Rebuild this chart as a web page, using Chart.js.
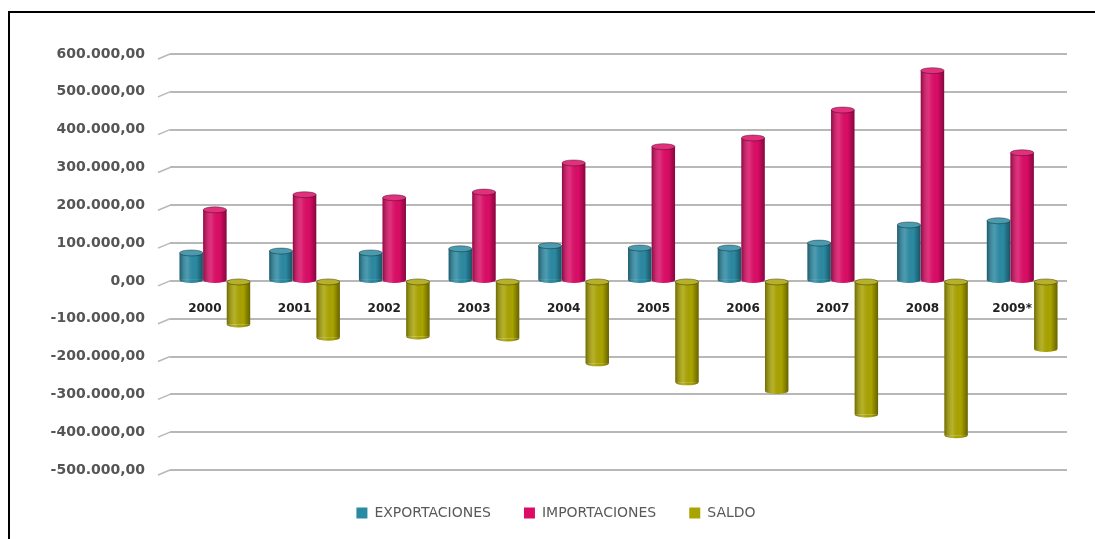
<!DOCTYPE html>
<html>
<head>
<meta charset="utf-8">
<script src="https://cdn.jsdelivr.net/npm/chart.js@4.4.1/dist/chart.umd.min.js"></script>
<style>
  body { margin: 0; background: #fff; }
  #frame { position: absolute; left: 8px; top: 11px; width: 1200px; height: 600px;
           border-left: 2px solid #000; border-top: 2px solid #000; }
  #wrap { position: absolute; left: 0; top: 0; width: 1095px; height: 539px; }
</style>
</head>
<body>
<div id="frame"></div>
<div id="wrap"><canvas id="balanza" width="1095" height="539"></canvas></div>
<script>
// valores (miles)
const years = ['2000', '2001', '2002', '2003', '2004', '2005', '2006', '2007', '2008', '2009*'];
const exportaciones = [74000, 79000, 74000, 85000, 93000, 87000, 87000, 100000, 148000, 159000];
const importaciones = [188000, 228000, 220000, 235000, 312000, 355000, 378000, 452000, 556000, 339000];
const saldo = [-115000, -150000, -147000, -152000, -218000, -268000, -291000, -353000, -408000, -180000];
const yMin = -500000;
const yMax = 600000;
const yStep = 100000;

const fmt = (v) => {
  const parts = Math.abs(v).toFixed(2).split('.');
  const ent = parts[0].replace(/\B(?=(\d{3})+(?!\d))/g, '.');
  return (v < 0 ? '-' : '') + ent + ',' + parts[1];
};

// sombreado tipo cilindro encima de cada barra
const cilindros = {
  id: 'cilindros',
  beforeDatasetsDraw(chart) {
    // lineas inclinadas del eje (efecto 3D)
    const ctx = chart.ctx;
    const ys = chart.scales.y;
    ctx.save();
    ctx.strokeStyle = '#b8b8b8';
    ctx.lineWidth = 1.5;
    ys.ticks.forEach((t) => {
      const py = ys.getPixelForValue(t.value);
      ctx.beginPath();
      ctx.moveTo(chart.chartArea.left - 12, py + 5);
      ctx.lineTo(chart.chartArea.left, py);
      ctx.stroke();
    });
    ctx.restore();
  },
  afterDatasetsDraw(chart) {
    const ctx = chart.ctx;
    chart.data.datasets.forEach((ds, di) => {
      const meta = chart.getDatasetMeta(di);
      meta.data.forEach((el) => {
        const { x, y, base, width } = el.getProps(['x', 'y', 'base', 'width'], true);
        const top = Math.min(y, base), bot = Math.max(y, base);
        const l = x - width / 2;
        const g = ctx.createLinearGradient(l, 0, l + width, 0);
        g.addColorStop(0, 'rgba(0,0,0,0.35)');
        g.addColorStop(0.35, 'rgba(255,255,255,0.15)');
        g.addColorStop(0.7, 'rgba(0,0,0,0)');
        g.addColorStop(1, 'rgba(0,0,0,0.4)');
        ctx.save();
        // fondo redondeado
        ctx.beginPath();
        ctx.ellipse(x, bot, width / 2, 3, 0, 0, Math.PI);
        ctx.fillStyle = ds.backgroundColor;
        ctx.fill();
        ctx.fillStyle = g;
        ctx.fill();
        ctx.fillRect(l, top, width, bot - top);
        // tapa
        ctx.beginPath();
        ctx.ellipse(x, top, width / 2, 3, 0, 0, Math.PI * 2);
        ctx.fillStyle = ds.backgroundColor;
        ctx.fill();
        ctx.fillStyle = 'rgba(255,255,255,0.15)';
        ctx.fill();
        ctx.strokeStyle = 'rgba(0,0,0,0.35)';
        ctx.lineWidth = 1;
        ctx.stroke();
        ctx.restore();
      });
    });
  }
};

new Chart(document.getElementById('balanza'), {
  type: 'bar',
  data: {
    labels: years,
    datasets: [
      { label: 'EXPORTACIONES', data: exportaciones, backgroundColor: '#2b8aa3' },
      { label: 'IMPORTACIONES', data: importaciones, backgroundColor: '#dc0c66' },
      { label: 'SALDO', data: saldo, backgroundColor: '#aaa400' }
    ]
  },
  options: {
    responsive: false,
    animation: false,
    events: [],
    categoryPercentage: 0.79,
    barPercentage: 0.99,
    layout: { padding: { left: 45, right: 28, top: 54, bottom: 9 } },
    plugins: {
      tooltip: { enabled: false },
      legend: {
        position: 'bottom',
        labels: {
          boxWidth: 11,
          boxHeight: 11,
          padding: 33,
          color: '#595959',
          font: { family: 'DejaVu Sans', size: 14 }
        }
      }
    },
    scales: {
      x: {
        position: 'bottom',
        grid: { display: false },
        border: { display: false },
        ticks: { display: false },
        afterFit: (s) => { s.height = 3; }
      },
      xl: {
        type: 'category',
        labels: years,
        position: { y: 0 },
        offset: true,
        grid: { display: false },
        border: { display: false },
        ticks: {
          padding: 13,
          labelOffset: -10,
          color: '#222',
          font: { family: 'DejaVu Sans', size: 12, weight: 'bold' }
        }
      },
      y: {
        min: yMin,
        max: yMax,
        afterFit: (s) => { s.width = 125; },
        grid: { color: '#b8b8b8', lineWidth: 2, drawTicks: false },
        border: { display: false },
        ticks: {
          stepSize: yStep,
          padding: 25,
          color: '#555',
          font: { family: 'DejaVu Sans', size: 14, weight: 'bold' },
          callback: (v) => fmt(v)
        }
      }
    }
  },
  plugins: [cilindros]
});
</script>
</body>
</html>
